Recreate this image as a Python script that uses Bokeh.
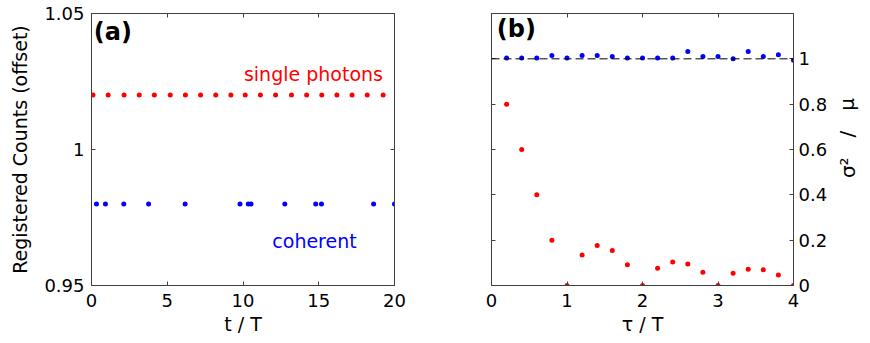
from bokeh.plotting import figure
from bokeh.layouts import row
from bokeh.models import Range1d, LinearAxis, FixedTicker, Label, Span
from bokeh.embed import file_html
from bokeh.resources import INLINE

# ---------------- data ----------------
# panel (a): registered counts (offset) vs t / T
t_single = [0.1, 1.1, 2.15, 3.15, 4.15, 5.2, 6.2, 7.2, 8.2, 9.2,
            10.15, 11.15, 12.15, 13.2, 14.2, 15.2, 16.2, 17.2, 18.2, 19.25]
counts_single = [1.02] * 20
t_coherent = [0.33, 0.92, 2.13, 3.77, 6.18, 9.8, 10.35, 10.53, 12.76,
              14.8, 15.18, 18.62, 20.0]
counts_coherent = [0.98] * 13

# panel (b): sigma^2 / mu vs tau / T
tau = [0.2, 0.4, 0.6, 0.8, 1.0, 1.2, 1.4, 1.6, 1.8, 2.0,
       2.2, 2.4, 2.6, 2.8, 3.0, 3.2, 3.4, 3.6, 3.8, 4.0]
fano_coherent = [1.004, 1.004, 1.004, 1.015, 1.004, 1.015, 1.015, 1.010, 1.004, 1.004,
                 1.004, 1.004, 1.032, 1.010, 1.010, 1.000, 1.032, 1.010, 1.018, 0.994]
fano_single = [0.8, 0.6, 0.4, 0.2, 0.0, 0.135, 0.176, 0.154, 0.091, 0.0,
               0.076, 0.104, 0.095, 0.059, 0.0, 0.054, 0.072, 0.069, 0.046, 0.0]

a_xticks = [0, 5, 10, 15, 20]
a_yticks = [0.95, 1.0, 1.05]
a_ylabels = {0.95: "0.95", 1.0: "1", 1.05: "1.05"}
b_xticks = [0, 1, 2, 3, 4]
b_yticks = [0, 0.2, 0.4, 0.6, 0.8, 1.0]
b_ylabels = {0: "0", 0.2: "0.2", 0.4: "0.4", 0.6: "0.6", 0.8: "0.8", 1.0: "1"}
b_ylabel_text = "σ²\u2003/\u2003μ"

FONT = "DejaVu Sans"
TICK_FS = "18px"
LAB_FS = "19px"
AX_COL = "#404040"
RED = "#ff0000"
BLUE = "#0000ff"


def style_axis(ax, ticks, labels=None, show_labels=True):
    ax.ticker = FixedTicker(ticks=ticks)
    ax.major_tick_in = 4
    ax.major_tick_out = 0
    ax.minor_tick_in = 0
    ax.minor_tick_out = 0
    ax.axis_line_color = AX_COL
    ax.major_tick_line_color = AX_COL
    ax.major_label_text_font = FONT
    ax.major_label_text_color = "black"
    ax.axis_label_text_font = FONT
    ax.axis_label_text_font_size = LAB_FS
    ax.axis_label_text_font_style = "normal"
    ax.axis_label_text_color = "black"
    if labels:
        ax.major_label_overrides = labels
    if show_labels:
        ax.major_label_text_font_size = TICK_FS
    else:
        ax.major_label_text_font_size = "1px"
        ax.major_label_text_color = None
        ax.major_label_standoff = 0


# ---------------- panel (a) ----------------
pa = figure(width=440, height=343, output_backend="svg", toolbar_location=None,
            x_range=Range1d(0, 20), y_range=Range1d(0.95, 1.05),
            min_border_left=91, min_border_right=46, min_border_top=13,
            min_border_bottom=58, x_axis_label="t / T",
            y_axis_label="Registered Counts (offset)")
pa.grid.visible = False
pa.outline_line_color = AX_COL
pa.background_fill_color = "white"
pa.border_fill_color = "white"
style_axis(pa.xaxis[0], a_xticks)
style_axis(pa.yaxis[0], a_yticks, a_ylabels)
pa.xaxis[0].major_label_standoff = 8
pa.xaxis[0].axis_label_standoff = 3
pa.yaxis[0].major_label_standoff = 7
pa.yaxis[0].axis_label_standoff = 10
ta = LinearAxis()
style_axis(ta, a_xticks, show_labels=False)
pa.add_layout(ta, "above")
ra = LinearAxis()
style_axis(ra, a_yticks, show_labels=False)
pa.add_layout(ra, "right")

pa.scatter(t_single, counts_single, size=5, color=RED, line_color=None)
pa.scatter(t_coherent, counts_coherent, size=5, color=BLUE, line_color=None)

pa.add_layout(Label(x=0.15, y=1.0485, text="(a)", text_font=FONT, text_font_size="24px",
                    text_font_style="bold", text_baseline="top", text_color="black"))
pa.add_layout(Label(x=14.65, y=1.0276, text="single photons", text_font=FONT,
                    text_font_size=LAB_FS, text_align="center",
                    text_baseline="alphabetic", text_color=RED))
pa.add_layout(Label(x=14.72, y=0.9665, text="coherent", text_font=FONT,
                    text_font_size=LAB_FS, text_align="center",
                    text_baseline="alphabetic", text_color=BLUE))

# ---------------- panel (b) ----------------
pb = figure(width=390, height=343, output_backend="svg", toolbar_location=None,
            x_range=Range1d(0, 4), y_range=Range1d(0, 1.2),
            min_border_left=51, min_border_right=34, min_border_top=13,
            min_border_bottom=58, x_axis_label="τ / T", y_axis_location="right")
pb.grid.visible = False
pb.outline_line_color = AX_COL
pb.background_fill_color = "white"
pb.border_fill_color = "white"
style_axis(pb.xaxis[0], b_xticks)
style_axis(pb.yaxis[0], b_yticks, b_ylabels)
pb.xaxis[0].major_label_standoff = 8
pb.xaxis[0].axis_label_standoff = 3
pb.yaxis[0].major_label_standoff = 5
tb = LinearAxis()
style_axis(tb, b_xticks, show_labels=False)
pb.add_layout(tb, "above")
lb = LinearAxis()
style_axis(lb, b_yticks, show_labels=False)
pb.add_layout(lb, "left")

pb.add_layout(Span(location=1.0, dimension="width", line_color="black",
                   line_width=1, line_dash="8 4"))
pb.scatter(tau, fano_coherent, size=5, color=BLUE, line_color=None)
pb.scatter(tau, fano_single, size=5, color=RED, line_color=None)

pb.add_layout(Label(x=0.07, y=1.1925, text="(b)", text_font=FONT, text_font_size="24px",
                    text_font_style="bold", text_baseline="top", text_color="black"))

# ---------------- right-hand axis title of panel (b) ----------------
pl = figure(width=40, height=343, output_backend="svg", toolbar_location=None,
            x_range=Range1d(0, 40), y_range=Range1d(0, 343),
            min_border=0, x_axis_location=None, y_axis_location=None)
pl.grid.visible = False
pl.outline_line_color = None
pl.background_fill_color = "white"
pl.border_fill_color = "white"
pl.add_layout(Label(x=17, y=186, text=b_ylabel_text, text_font=FONT,
                    text_font_size="20px", text_align="center",
                    text_baseline="middle", angle=1.5708, text_color="black"))

layout = row(pa, pb, pl)
open("out.html", "w").write(file_html(layout, INLINE))
